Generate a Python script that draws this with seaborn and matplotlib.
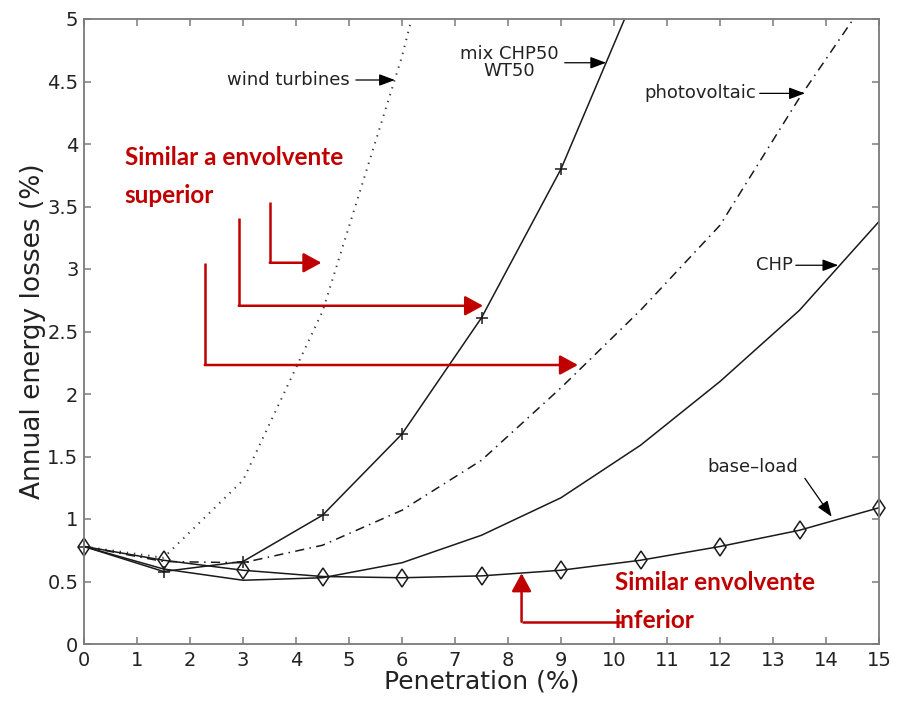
import matplotlib
matplotlib.use("Agg")
import matplotlib.pyplot as plt
from matplotlib.ticker import FuncFormatter
import numpy as np
import pandas as pd
import seaborn as sns

# Penetration levels (%) at which the losses were evaluated
penetration = [0, 1.5, 3, 4.5, 6, 7.5, 9, 10.5, 12, 13.5, 15]

# Annual energy losses (%) for each generation technology
base_load = [0.78, 0.67, 0.59, 0.54, 0.53, 0.545, 0.59, 0.67, 0.78, 0.91, 1.09]
chp = [0.78, 0.60, 0.51, 0.53, 0.65, 0.87, 1.17, 1.59, 2.10, 2.67, 3.38]
photovoltaic = [0.78, 0.66, 0.65, 0.79, 1.07, 1.47, 2.05, 2.67, 3.35, 4.37, 5.30]
mix_chp50_wt50 = [0.78, 0.58, 0.66, 1.03, 1.68, 2.61, 3.80, 5.30]
wind_turbines = [0.78, 0.69, 1.31, 2.66, 4.70, 7.20]

x_ticks = list(range(0, 16))
y_ticks = [0, 0.5, 1, 1.5, 2, 2.5, 3, 3.5, 4, 4.5, 5]
y_max = 5

sns.set_theme(style="white")
plt.rcParams["font.family"] = ["DejaVu Sans"]

W, H = 898, 704
fig = plt.figure(figsize=(W / 100, H / 100), dpi=100)
ax = fig.add_axes([84 / W, 1 - 644 / H, (879 - 84) / W, (644 - 19) / H])

line_col = "#1a1a1a"

df_base = pd.DataFrame({"x": penetration, "y": base_load})
df_chp = pd.DataFrame({"x": penetration, "y": chp})
df_pv = pd.DataFrame({"x": penetration, "y": photovoltaic})
df_mix = pd.DataFrame({"x": penetration[:len(mix_chp50_wt50)], "y": mix_chp50_wt50})
df_wind = pd.DataFrame({"x": penetration[:len(wind_turbines)], "y": wind_turbines})

common = dict(x="x", y="y", ax=ax, estimator=None, sort=False, legend=False)

sns.lineplot(data=df_wind, color="#3a3a3a", linewidth=1.4,
             linestyle=(0, (0.7, 3.0)), **common)
sns.lineplot(data=df_pv, color=line_col, linewidth=1.1,
             linestyle=(0, (6, 3.5, 1, 3.5)), **common)
sns.lineplot(data=df_chp, color=line_col, linewidth=1.1, **common)
sns.lineplot(data=df_mix, color=line_col, linewidth=1.1, **common)
sns.lineplot(data=df_base, color=line_col, linewidth=1.1, **common)

# Markers stay whole at the frame edges (only those inside the y range)
mk_mix = df_mix[df_mix["y"] <= y_max]
mk_base = df_base[df_base["y"] <= y_max]
sns.lineplot(data=mk_mix, color=line_col, linestyle="none", marker="+",
             markersize=8, markeredgewidth=1.1, markeredgecolor=line_col,
             clip_on=False, **common)
sns.lineplot(data=mk_base, color=line_col, linestyle="none", marker="d",
             markersize=9.5, markerfacecolor="none", markeredgewidth=1.1,
             markeredgecolor=line_col, clip_on=False, **common)

ax.set_xlim(0, 15)
ax.set_ylim(0, y_max)
ax.set_xticks(x_ticks)
ax.set_yticks(y_ticks)
fmt = FuncFormatter(lambda v, _: "%g" % v)
ax.xaxis.set_major_formatter(fmt)
ax.yaxis.set_major_formatter(fmt)

spine_col = "#7a7a7a"
for s in ax.spines.values():
    s.set_visible(True)
    s.set_color(spine_col)
    s.set_linewidth(1.3)
ax.tick_params(axis="both", which="major", direction="in", length=5, width=1.1,
               color=spine_col, top=True, right=True, bottom=True, left=True,
               labelsize=14, labelcolor="#222222")
ax.tick_params(axis="x", pad=5)
ax.tick_params(axis="y", pad=4)

ax.set_xlabel("Penetration (%)", fontsize=18, color="#222222", labelpad=0)
ax.set_ylabel("Annual energy losses (%)", fontsize=19, color="#222222", labelpad=1)

# Black curve labels with pointer arrows
txt_kw = dict(fontsize=13, color="#222222", va="center")
black_arrow = dict(arrowstyle="-|>,head_length=0.8,head_width=0.3",
                   color="black", lw=0.9, shrinkA=0, shrinkB=0, mutation_scale=12)

ax.text(5.02, 4.512, "wind turbines", ha="right", **txt_kw)
ax.annotate("", xy=(5.865, 4.512), xytext=(5.13, 4.512), arrowprops=black_arrow)

ax.text(8.02, 4.652, "mix CHP50\nWT50", ha="center", fontsize=13, color="#222222",
        va="center", linespacing=0.95)
ax.annotate("", xy=(9.85, 4.65), xytext=(9.07, 4.65), arrowprops=black_arrow)

ax.text(12.68, 4.405, "photovoltaic", ha="right", **txt_kw)
ax.annotate("", xy=(13.60, 4.405), xytext=(12.75, 4.405), arrowprops=black_arrow)

ax.text(13.38, 3.03, "CHP", ha="right", **txt_kw)
ax.annotate("", xy=(14.23, 3.03), xytext=(13.43, 3.03), arrowprops=black_arrow)

ax.text(12.61, 1.416, "base\u2013load", ha="center", **txt_kw)
ax.annotate("", xy=(14.107, 1.018), xytext=(13.6, 1.326), arrowprops=black_arrow)

# Red envelope annotations
red = "#C00000"
red_kw = dict(fontsize=17.5, color=red, fontweight="bold", family=["Lato", "DejaVu Sans"],
              va="center", ha="left")
ax.text(0.77, 3.89, "Similar a envolvente", **red_kw)
ax.text(0.77, 3.59, "superior", **red_kw)
ax.text(10.02, 0.49, "Similar envolvente", **red_kw)
ax.text(10.02, 0.19, "inferior", **red_kw)

red_arrow = dict(arrowstyle="-|>,head_length=0.55,head_width=0.3",
                 color=red, lw=1.8, shrinkA=0, shrinkB=0, mutation_scale=20)

def elbow(x0, y0, y1, x_tip):
    ax.plot([x0, x0], [y0, y1], color=red, lw=1.8, solid_capstyle="butt", clip_on=False)
    ax.annotate("", xy=(x_tip, y1), xytext=(x0, y1), arrowprops=red_arrow)

elbow(3.505, 3.538, 3.05, 4.48)
elbow(2.92, 3.408, 2.706, 7.53)
elbow(2.278, 3.046, 2.232, 9.32)

ax.plot([10.17, 8.256], [0.178, 0.178], color=red, lw=1.8, solid_capstyle="butt", clip_on=False)
ax.annotate("", xy=(8.256, 0.566), xytext=(8.256, 0.178), arrowprops=red_arrow)

fig.savefig("out.png", dpi=100)
